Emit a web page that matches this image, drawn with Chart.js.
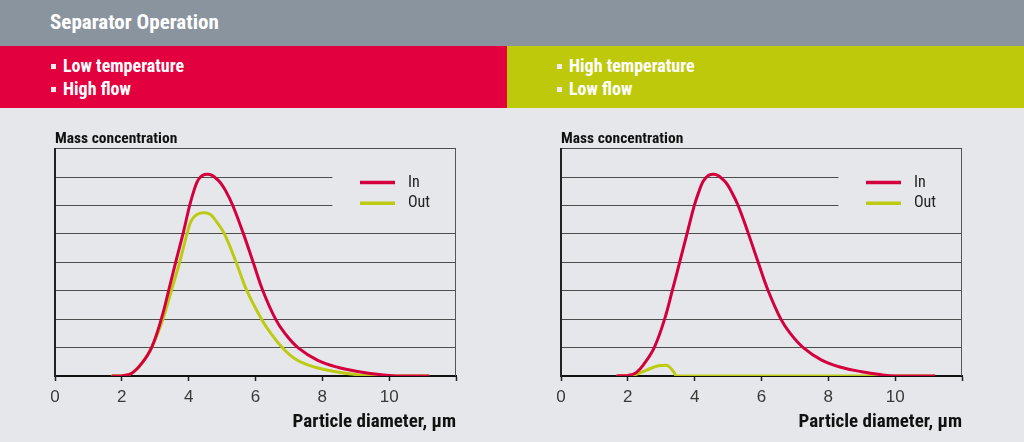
<!DOCTYPE html>
<html>
<head>
<meta charset="utf-8">
<script src="https://cdn.jsdelivr.net/npm/chart.js@4.4.1/dist/chart.umd.min.js"></script>
<style>
    body { margin: 0; width: 1024px; height: 442px; background: #e6e7eb; position: relative; overflow: hidden;
        font-family: "Liberation Sans Narrow", "Roboto Condensed", "Liberation Sans", sans-serif; }
    .top-bar { position: absolute; left: 0; top: 0; width: 1024px; height: 46px; background: #8a949f; }
    .top-bar h1 { position: absolute; left: 50px; top: 10px; margin: 0; font-size: 21px; line-height: 24px;
        font-weight: bold; color: #fff; }
    .band { position: absolute; top: 46px; height: 62px; }
    .band.red { left: 0; width: 507px; background: #e3003e; }
    .band.green { left: 507px; width: 517px; background: #bec90b; }
    .band ul { list-style: none; margin: 0; padding: 0; position: absolute; top: 9px; }
    .band li { position: relative; font-size: 18px; line-height: 22.5px; font-weight: bold; color: #fff; padding-left: 13px; }
    .band li::before { content: ''; position: absolute; left: 1px; top: 9px; width: 5px; height: 5px; background: #f5e9ee; }
    .band.red ul { left: 50px; }
    .band.green ul { left: 49px; }
    .chart-box { position: absolute; top: 120px; width: 430px; height: 320px; }
</style>
</head>
<body>
<div class="top-bar"><h1>Separator Operation</h1></div>
<div class="band red"><ul><li>Low temperature</li><li>High flow</li></ul></div>
<div class="band green"><ul><li>High temperature</li><li>Low flow</li></ul></div>
<div class="chart-box" style="left: 40px;"><canvas id="chartLeft" width="430" height="320"></canvas></div>
<div class="chart-box" style="left: 546px;"><canvas id="chartRight" width="430" height="320"></canvas></div>
<script>
// particle diameter (µm) / mass concentration
const leftInX = [1.7, 2.0, 2.3, 2.6, 2.89, 3.18, 3.40, 3.61, 3.83, 4.03, 4.16, 4.25, 4.33, 4.43, 4.56, 4.7, 4.8, 4.95, 5.1, 5.32, 5.64, 5.93, 6.22, 6.6, 6.88, 7.27, 7.85, 8.48, 9.1, 9.7, 10.2, 11.2];
const leftInY = [0, 0.01, 0.1, 0.45, 1, 2, 3, 4, 5, 6, 6.53, 6.82, 6.97, 7.07, 7.1, 7.06, 6.97, 6.8, 6.53, 6, 5, 4, 3, 2, 1.5, 1, 0.56, 0.3, 0.15, 0.05, 0, 0];

const leftOutX = [1.69, 2.0, 2.3, 2.6, 2.89, 3.23, 3.48, 3.73, 3.95, 4.08, 4.25, 4.46, 4.65, 4.81, 5.07, 5.42, 5.74, 6.18, 6.46, 6.8, 7.24, 7.81, 8.41, 9.0, 9.5, 11.2];
const leftOutY = [0, 0.01, 0.1, 0.45, 1, 2, 3, 4, 5, 5.47, 5.68, 5.74, 5.68, 5.47, 5, 4, 3, 2, 1.5, 1, 0.56, 0.3, 0.15, 0.05, 0, 0];

const rightInX = [1.66, 2.0, 2.25, 2.5, 2.79, 3.10, 3.33, 3.55, 3.77, 3.99, 4.14, 4.24, 4.33, 4.43, 4.55, 4.69, 4.79, 4.94, 5.08, 5.3, 5.61, 5.9, 6.2, 6.58, 6.86, 7.25, 7.8, 8.4, 9.0, 9.55, 10.0, 11.2];
const rightInY = [0, 0.02, 0.12, 0.45, 1, 2, 3, 4, 5, 6, 6.53, 6.82, 6.97, 7.07, 7.1, 7.06, 6.97, 6.8, 6.53, 6, 5, 4, 3, 2, 1.5, 1, 0.56, 0.3, 0.15, 0.05, 0, 0];

const rightOutX = [1.66, 2.16, 2.56, 2.91, 3.05, 3.2, 3.37, 3.47, 11.19];
const rightOutY = [0, 0.03, 0.21, 0.36, 0.37, 0.36, 0.15, 0, 0];

const xTicks = [0, 2, 4, 6, 8, 10, 12];
const seriesLabels = ['In', 'Out'];

const RED = '#d4003d';
const GREEN = '#bccb12';
const BG = '#e6e7eb';
const FONT = '"Liberation Sans Narrow", "Roboto Condensed", "Liberation Sans", sans-serif';

function toPoints(xs, ys) {
    return xs.map((x, i) => ({ x, y: ys[i] }));
}

// legend sits inside the plot, the two top grid lines stop short of it
const framePlugin = {
    id: 'frame',
    beforeDatasetsDraw(chart) {
        const { ctx, chartArea, scales: { x, y } } = chart;
        ctx.save();
        const stop = x.getPixelForValue(8.3);
        ctx.fillStyle = BG;
        ctx.fillRect(stop, y.getPixelForValue(7.5), chartArea.right - stop - 1, y.getPixelForValue(5.5) - y.getPixelForValue(7.5));
        ctx.strokeStyle = '#555';
        ctx.lineWidth = 1;
        ctx.beginPath();
        ctx.moveTo(chartArea.right - 0.5, chartArea.top);
        ctx.lineTo(chartArea.right - 0.5, chartArea.bottom);
        ctx.stroke();
        ctx.restore();
    },
    afterDatasetsDraw(chart) {
        const { ctx, chartArea } = chart;
        ctx.save();
        chart.data.datasets.forEach((ds, i) => {
            const ly = chartArea.top + 34 + i * 20.7;
            ctx.strokeStyle = ds.borderColor;
            ctx.lineWidth = 3.5;
            ctx.beginPath();
            ctx.moveTo(chartArea.left + 305, ly);
            ctx.lineTo(chartArea.left + 340, ly);
            ctx.stroke();
            ctx.fillStyle = '#222';
            ctx.font = '16px ' + FONT;
            ctx.textBaseline = 'middle';
            ctx.fillText(ds.label, chartArea.left + 353, ly);
        });
        ctx.restore();
    },
};

function makeChart(id, inX, inY, outX, outY) {
    const canvas = document.getElementById(id);
    return new Chart(canvas, {
        type: 'line',
        data: {
            datasets: [
                { label: seriesLabels[0], data: toPoints(inX, inY), borderColor: RED },
                { label: seriesLabels[1], data: toPoints(outX, outY), borderColor: GREEN },
            ],
        },
        options: {
            responsive: false,
            animation: false,
            layout: { padding: { left: 15, right: 14, top: 0, bottom: 0 } },
            elements: {
                point: { radius: 0 },
                line: { borderWidth: 3, tension: 0.4, fill: false },
            },
            plugins: {
                legend: { display: false },
                tooltip: { enabled: false },
                title: {
                    display: true,
                    text: 'Mass concentration',
                    align: 'start',
                    color: '#111',
                    font: { family: FONT, size: 15.5, weight: 'bold' },
                    padding: { top: 10, bottom: 0 },
                },
            },
            scales: {
                x: {
                    type: 'linear',
                    min: 0,
                    max: 12,
                    afterBuildTicks: (scale) => { scale.ticks = xTicks.map((v) => ({ value: v })); },
                    afterFit: (scale) => { scale.height = 64; },
                    ticks: {
                        callback: (v) => (v === 12 ? '' : v),
                        color: '#3a3a3a',
                        font: { family: '"Liberation Sans", sans-serif', size: 17 },
                        padding: 6,
                        maxRotation: 0,
                    },
                    grid: { drawOnChartArea: false, tickLength: 5, color: '#222', tickWidth: 1.5 },
                    border: { color: '#111', width: 2 },
                    title: {
                        display: true,
                        text: 'Particle diameter, µm',
                        align: 'end',
                        color: '#111',
                        font: { family: FONT, size: 19, weight: 'bold' },
                        padding: { top: 0, bottom: 6 },
                    },
                },
                y: {
                    min: 0,
                    max: 8,
                    ticks: { display: false, stepSize: 1 },
                    grid: { drawTicks: false, color: '#4d4d4d', lineWidth: 1 },
                    border: { color: '#222', width: 2 },
                },
            },
        },
        plugins: [framePlugin],
    });
}

document.addEventListener('DOMContentLoaded', () => {
    makeChart('chartLeft', leftInX, leftInY, leftOutX, leftOutY);
    makeChart('chartRight', rightInX, rightInY, rightOutX, rightOutY);
});
</script>
</body>
</html>
